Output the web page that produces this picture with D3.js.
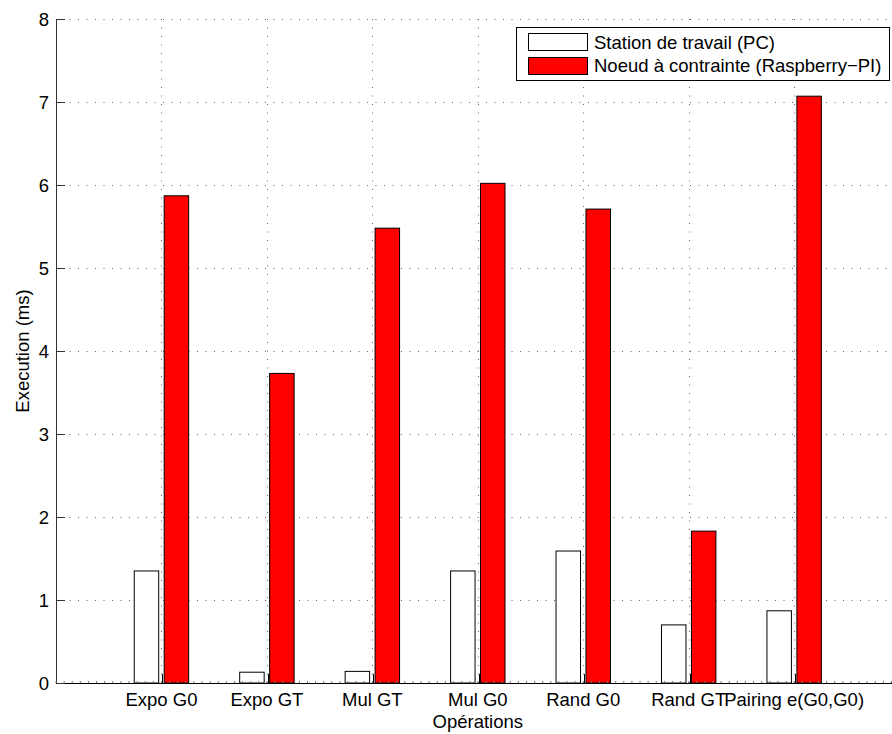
<!DOCTYPE html>
<html>
<head>
<meta charset="utf-8">
<script src="https://cdn.jsdelivr.net/npm/d3@7"></script>
<style>
  html, body { margin: 0; padding: 0; background: #fff; }
  svg { display: block; font-family: "Liberation Sans", Arial, Helvetica, sans-serif; }
</style>
</head>
<body>
<svg id="chart" width="892" height="734"></svg>
<script>
const categories = ["Expo G0", "Expo GT", "Mul GT", "Mul G0", "Rand G0", "Rand GT", "Pairing e(G0,G0)"];
const pcValues = [1.35, 0.13, 0.14, 1.35, 1.59, 0.70, 0.87];
const rpiValues = [5.87, 3.73, 5.48, 6.02, 5.71, 1.83, 7.07];
const seriesNames = ["Station de travail (PC)", "Noeud à contrainte (Raspberry\u2212PI)"];
const yTicks = [0, 1, 2, 3, 4, 5, 6, 7, 8];
const xLabel = "Opérations";
const yLabel = "Execution (ms)";

const svg = d3.select("#chart");
const fontSize = 18.5;

const x = d3.scaleLinear().domain([0, 8]).range([56, 899.6]);
const y = d3.scaleLinear().domain([0, 8]).range([683, 19]);

const centers = categories.map((c, i) => i + 1);
const off = 0.142, bw = 0.232;

// grid
const grid = svg.append("g").attr("stroke", "#666").attr("stroke-width", 1)
  .attr("stroke-dasharray", "1,7.5");
yTicks.filter(t => t > 0).forEach(t => {
  grid.append("line").attr("x1", x(0) + 5).attr("x2", 892)
    .attr("y1", Math.round(y(t)) + 0.5).attr("y2", Math.round(y(t)) + 0.5);
});
centers.forEach(c => {
  grid.append("line").attr("x1", Math.round(x(c)) + 0.5).attr("x2", Math.round(x(c)) + 0.5)
    .attr("y1", y(8)).attr("y2", y(0));
});

// bars
const bars = svg.append("g");
categories.forEach((cat, i) => {
  const c = centers[i];
  bars.append("rect")
    .attr("x", x(c - off - bw / 2)).attr("width", x(bw) - x(0))
    .attr("y", y(pcValues[i])).attr("height", y(0) - y(pcValues[i]))
    .attr("fill", "#fff").attr("stroke", "#000").attr("stroke-width", 1);
  bars.append("rect")
    .attr("x", x(c + off - bw / 2)).attr("width", x(bw) - x(0))
    .attr("y", y(rpiValues[i])).attr("height", y(0) - y(rpiValues[i]))
    .attr("fill", "#ff0000").attr("stroke", "#000").attr("stroke-width", 1);
});

// axes
const ax = svg.append("g").attr("stroke", "#333").attr("stroke-width", 1);
ax.append("line").attr("x1", 56.5).attr("x2", 56.5).attr("y1", y(8)).attr("y2", y(0));
ax.append("line").attr("x1", 56).attr("x2", 892).attr("y1", 683.5).attr("y2", 683.5).attr("stroke", "#000");
// y ticks
yTicks.forEach(t => {
  ax.append("line").attr("x1", 56.5).attr("x2", 65)
    .attr("y1", Math.round(y(t)) + 0.5).attr("y2", Math.round(y(t)) + 0.5);
});
// x major ticks
centers.forEach(c => {
  ax.append("line").attr("x1", Math.round(x(c)) + 1.5).attr("x2", Math.round(x(c)) + 1.5)
    .attr("y1", 683).attr("y2", 674).attr("stroke", "#000");
});
// minor x ticks
d3.range(0, 8.01, 1 / 13).forEach(t => {
  if (x(t) < 892) ax.append("line").attr("x1", x(t)).attr("x2", x(t))
    .attr("y1", 683).attr("y2", 681).attr("stroke", "#777");
});

// tick labels
const txt = svg.append("g").attr("font-size", fontSize).attr("fill", "#000");
yTicks.forEach(t => {
  txt.append("text").attr("x", 49).attr("y", y(t)).attr("dy", "0.36em")
    .attr("text-anchor", "end").text(t);
});
categories.forEach((cat, i) => {
  txt.append("text").attr("x", x(centers[i])).attr("y", 706)
    .attr("text-anchor", "middle").text(cat);
});
txt.append("text").attr("x", (x(0) + x(8)) / 2).attr("y", 728)
  .attr("text-anchor", "middle").text(xLabel);
txt.append("text").attr("transform", `translate(29,${(y(0) + y(8)) / 2}) rotate(-90)`)
  .attr("text-anchor", "middle").text(yLabel);

// legend
const lg = svg.append("g");
lg.append("rect").attr("x", 516.5).attr("y", 27.5).attr("width", 373).attr("height", 53)
  .attr("fill", "#fff").attr("stroke", "#000").attr("stroke-width", 1);
const swFill = ["#fff", "#ff0000"];
seriesNames.forEach((n, i) => {
  lg.append("rect").attr("x", 528.5).attr("y", 33.5 + i * 24).attr("width", 59).attr("height", 17)
    .attr("fill", swFill[i]).attr("stroke", "#000").attr("stroke-width", 1);
  lg.append("text").attr("x", 594).attr("y", 49 + i * 23).attr("font-size", fontSize).text(n);
});
</script>
</body>
</html>
